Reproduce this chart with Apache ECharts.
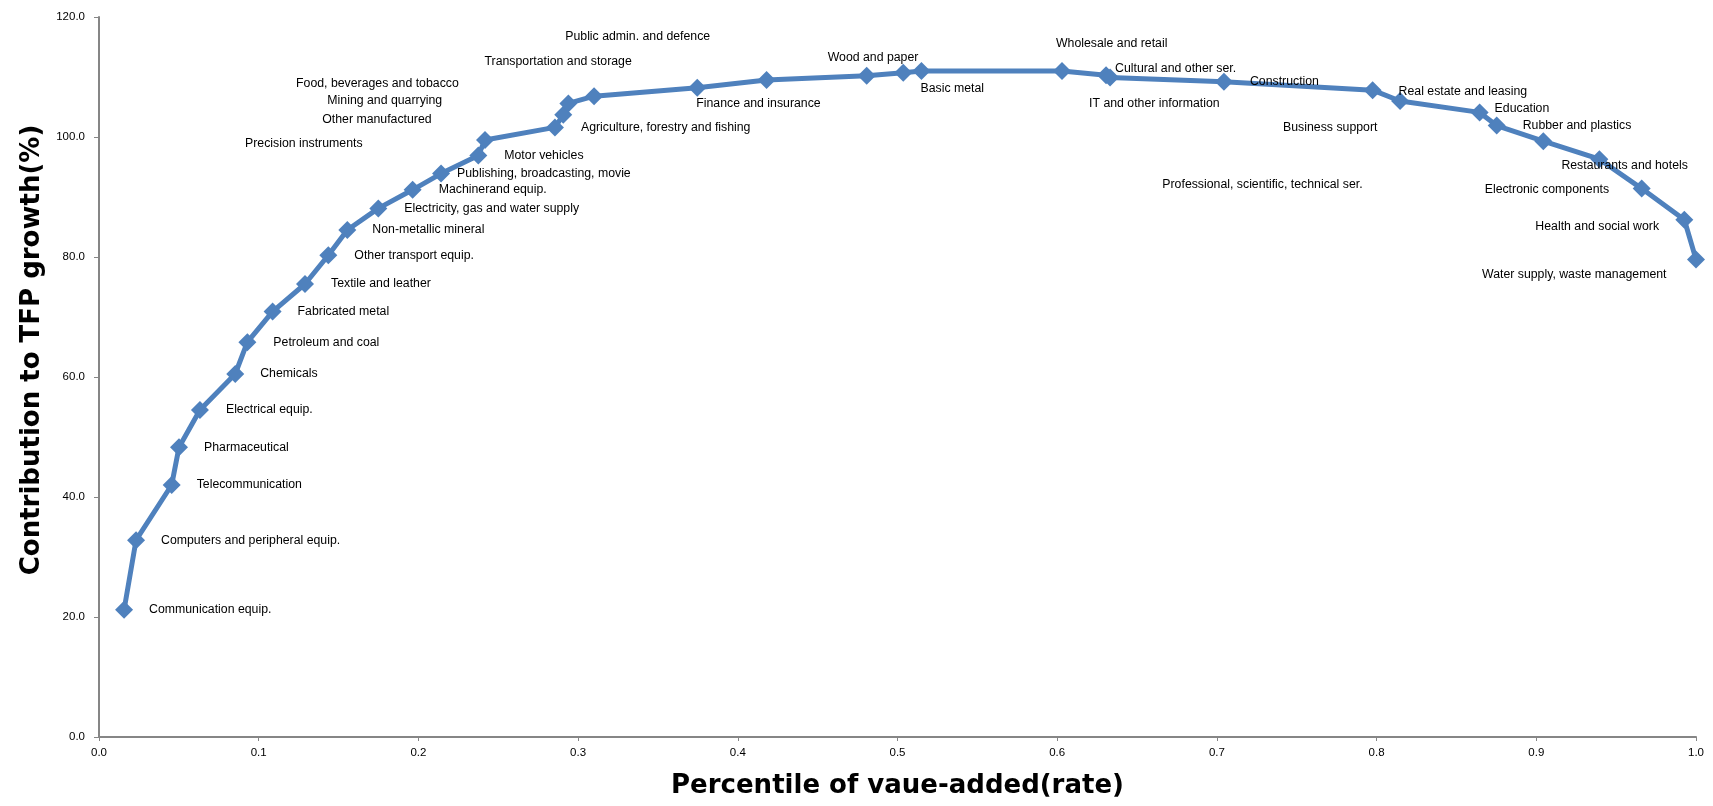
<!DOCTYPE html>
<html>
<head>
<meta charset="utf-8">
<script src="https://cdn.jsdelivr.net/npm/echarts@6/dist/echarts.min.js"></script>
<style>
html,body{margin:0;padding:0;background:#fff;}
#chart{width:1713px;height:806px;}
</style>
</head>
<body>
<div id="chart"></div>
<script>
// ---- data ----
var industries = [
  "Communication equip.", "Computers and peripheral equip.", "Telecommunication", "Pharmaceutical",
  "Electrical equip.", "Chemicals", "Petroleum and coal", "Fabricated metal", "Textile and leather",
  "Other transport equip.", "Non-metallic mineral", "Electricity, gas and water supply",
  "Machinerand equip.", "Publishing, broadcasting, movie", "Motor vehicles", "Precision instruments",
  "Agriculture, forestry and fishing", "Other manufactured", "Mining and quarrying",
  "Food, beverages and tobacco", "Finance and insurance", "Transportation and storage",
  "Wood and paper", "Public admin. and defence", "Basic metal", "Wholesale and retail",
  "Cultural and other ser.", "IT and other information", "Construction", "Real estate and leasing",
  "Business support", "Education", "Rubber and plastics", "Professional, scientific, technical ser.",
  "Restaurants and hotels", "Electronic components", "Health and social work",
  "Water supply, waste management"
];
var percentile = [
  0.0157, 0.0232, 0.0455, 0.0501, 0.0632, 0.0853, 0.0929, 0.1087, 0.1290, 0.1436,
  0.1555, 0.1749, 0.1964, 0.2142, 0.2375, 0.2417, 0.2855, 0.2907, 0.2939, 0.3100,
  0.3746, 0.4180, 0.4807, 0.5036, 0.5150, 0.6030, 0.6306, 0.6331, 0.7044, 0.7975,
  0.8147, 0.8645, 0.8752, 0.9044, 0.9395, 0.9660, 0.9927, 1.0000
];
var contribution = [
  21.2, 32.8, 42.0, 48.3, 54.5, 60.5, 65.8, 70.9, 75.5, 80.3,
  84.5, 88.1, 91.2, 93.9, 96.9, 99.5, 101.6, 103.7, 105.6, 106.8,
  108.2, 109.5, 110.2, 110.7, 111.0, 111.0, 110.3, 109.9, 109.2, 107.8,
  106.0, 104.1, 101.9, 99.3, 96.3, 91.4, 86.2, 79.6
];
var yTickValues = [0, 20, 40, 60, 80, 100, 120];
var xTickValues = [0, 0.1, 0.2, 0.3, 0.4, 0.5, 0.6, 0.7, 0.8, 0.9, 1.0];

// ---- label layout (pixel offsets from each marker centre to its label's left-middle) ----
var labelOffsets = [
  [25,0],[25,0],[25,0],[25,0],[26,0],[25,0],[26,0],[25,0],[26,0],[26,0],
  [25,0],[26,0],[26,0],[16,0],[26,0],[-240,4],[26,0],[-241,5],[-241,-3],[-298,-13],
  [-1,16],[-282,-18],[-39,-18],[-338,-36],[-1,18],[-6,-27],[9,-7],[-21,26],[26,0],[26,1],
  [-117,27],[15,-4],[26,0],[-381,43],[-38,6],[-157,1],[-149,7],[-214,15]
];

var SYMBOL = 18;
var seriesData = industries.map(function (name, i) {
  return { name: name, value: [percentile[i], contribution[i]] };
});

var chart = echarts.init(document.getElementById('chart'), null, { renderer: 'canvas' });
var axisLineStyle = { color: '#868686', width: 2 };
chart.setOption({
  animation: false,
  backgroundColor: '#ffffff',
  grid: { left: 99, right: 17, top: 17, bottom: 69, containLabel: false },
  xAxis: {
    type: 'value', min: 0, max: 1, interval: 0.1,
    name: 'Percentile of vaue-added(rate)',
    nameLocation: 'middle', nameGap: 36,
    nameTextStyle: { fontFamily: 'DejaVu Sans', fontWeight: 'bold', fontSize: 26, color: '#000' },
    axisLine: { lineStyle: axisLineStyle },
    axisTick: { show: true, length: 4, lineStyle: { color: '#868686', width: 1 } },
    axisLabel: { margin: 10, fontFamily: 'Liberation Sans', fontSize: 11.5, color: '#000',
      formatter: function (v) { return v.toFixed(1); } },
    splitLine: { show: false }
  },
  yAxis: {
    type: 'value', min: 0, max: 120, interval: 20,
    name: 'Contribution to TFP growth(%)',
    nameLocation: 'middle', nameGap: 49,
    nameTextStyle: { fontFamily: 'DejaVu Sans', fontWeight: 'bold', fontSize: 26, color: '#000',
      padding: [0, 0, 0, 54] },
    axisLine: { show: true, lineStyle: axisLineStyle },
    axisTick: { show: true, length: 5, lineStyle: { color: '#868686', width: 1 } },
    axisLabel: { margin: 14, fontFamily: 'Liberation Sans', fontSize: 11.5, color: '#000',
      formatter: function (v) { return v.toFixed(1); } },
    splitLine: { show: false }
  },
  series: [{
    type: 'line',
    data: seriesData,
    symbol: 'diamond',
    symbolSize: SYMBOL,
    showAllSymbol: true,
    itemStyle: { color: '#4F81BD' },
    lineStyle: { color: '#4F81BD', width: 5 },
    label: {
      show: true,
      position: 'right',
      distance: 0,
      formatter: '{b}',
      fontFamily: 'Liberation Sans',
      fontSize: 12.3,
      color: '#000',
      align: 'left',
      verticalAlign: 'middle'
    },
    labelLayout: function (params) {
      var o = labelOffsets[params.dataIndex];
      return { dx: o[0] - SYMBOL / 2, dy: o[1], hideOverlap: false };
    },
    emphasis: { disabled: true }
  }]
});
</script>
</body>
</html>
